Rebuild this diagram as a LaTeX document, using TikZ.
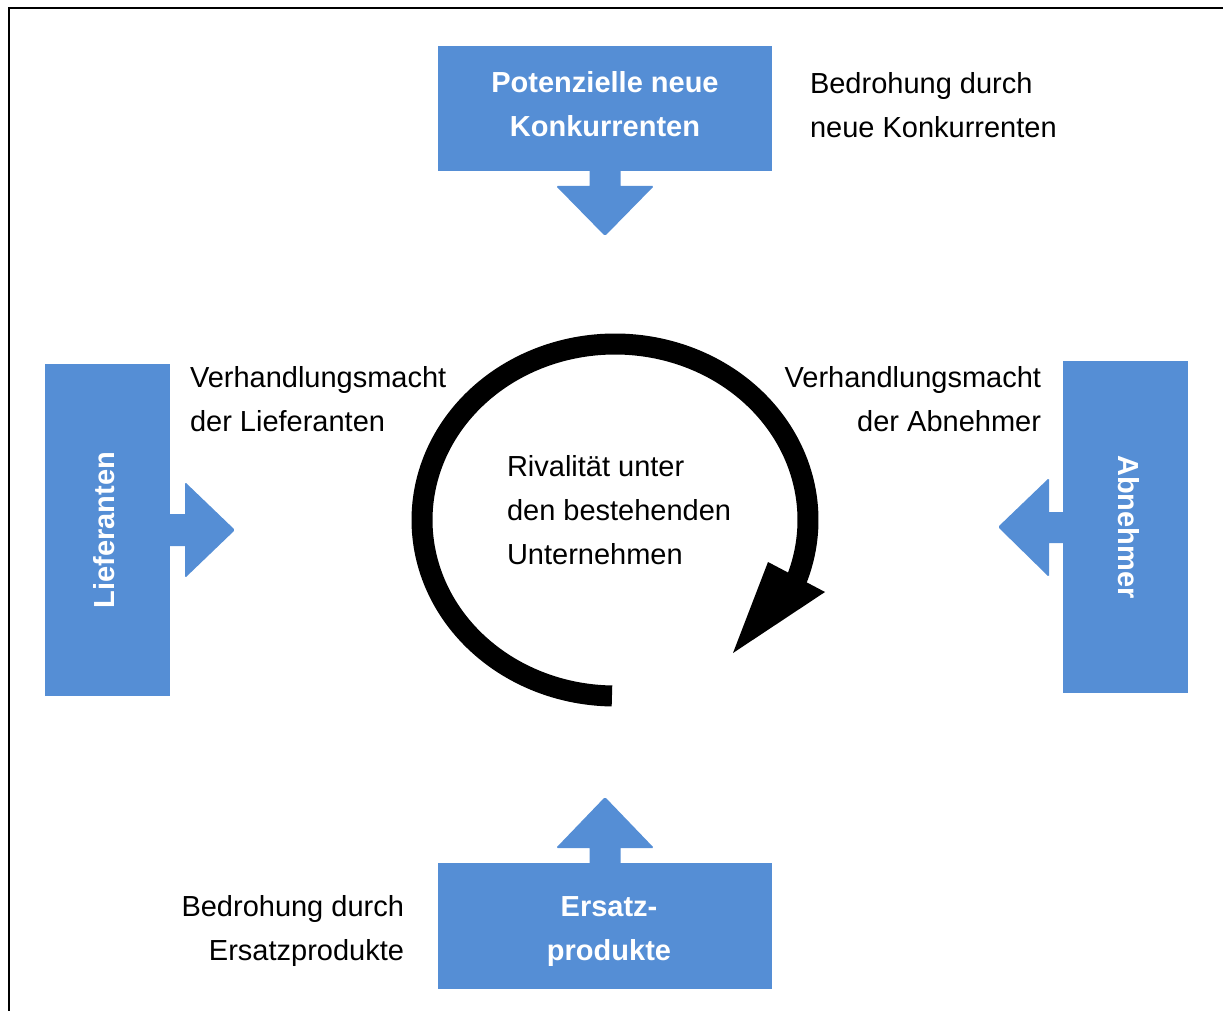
\documentclass[tikz,border=0pt]{standalone}
\usepackage{fontspec}
\setmainfont{Liberation Sans}
\usetikzlibrary{calc}
\definecolor{blockblue}{RGB}{85,142,213}
\begin{document}
\begin{tikzpicture}[x=1pt,y=-1pt,
  box/.style={fill=blockblue, draw=none, inner sep=0pt, outer sep=0pt},
  txt/.style={font=\fontsize{29}{44}\selectfont, inner sep=0pt, outer sep=0pt},
  btxt/.style={txt, font=\fontsize{29}{44}\selectfont\bfseries, text=white},
  rivalry/.style={line width=21pt, line cap=butt, draw=black}
]
\useasboundingbox (0,0) rectangle (1223,1011);
% frame (top and left only)
\draw[line width=2.3pt] (1223,8) -- (9.2,8) -- (9.2,1011);

% boxes
\node[box, minimum width=334pt, minimum height=125pt] (top) at (605,108.5) {};
\node[box, minimum width=125pt, minimum height=332pt] (left) at (107.5,530) {};
\node[box, minimum width=125pt, minimum height=332pt] (right) at (1125.5,527) {};
\node[box, minimum width=334pt, minimum height=126pt] (bottom) at (605,926) {};

% block arrows
\fill[blockblue, shift={(top.south)}] (-15.5,-1) -- (-15.5,15) [rounded corners=1.5pt] -- (-49,15) -- (0,65) -- (49,15) [sharp corners] -- (15.5,15) -- (15.5,-1) -- cycle;
\fill[blockblue, shift={(bottom.north)}] (-15.5,1) -- (-15.5,-15) [rounded corners=1.5pt] -- (-49,-15) -- (0,-66) -- (49,-15) [sharp corners] -- (15.5,-15) -- (15.5,1) -- cycle;
\fill[blockblue, shift={(left.east)}] (-1,-16) -- (15,-16) [rounded corners=1.5pt] -- (15,-48) -- (65,0) -- (15,48) [sharp corners] -- (15,16) -- (-1,16) -- cycle;
\fill[blockblue, shift={(right.west)}] (1,-15) -- (-14,-15) [rounded corners=1.5pt] -- (-14,-49) -- (-65,0) -- (-14,50) [sharp corners] -- (-14,16) -- (1,16) -- cycle;

% box texts (base anchor = baseline of last line)
\node[btxt, align=center, anchor=base] (toptext) at (605,137) {Potenzielle neue\\Konkurrenten};
\node[btxt, align=center, anchor=base] (bottomtext) at (609,960) {Ersatz-\\produkte};
\node[btxt, rotate=90, anchor=base] (lefttext) at (114,530) {Lieferanten};
\node[btxt, rotate=-90, anchor=base] (righttext) at (1118,527) {Abnehmer};

% side texts
\node[txt, align=left, anchor=base west] (threatnew) at (810,138) {Bedrohung durch\\neue Konkurrenten};
\node[txt, align=left, anchor=base west] (supplier) at (190,431) {Verhandlungsmacht\\der Lieferanten};
\node[txt, align=right, anchor=base east] (buyer) at (1041,431) {Verhandlungsmacht\\der Abnehmer};
\node[txt, align=right, anchor=base east] (threatsub) at (404,960) {Bedrohung durch\\Ersatzprodukte};
\node[txt, align=left, anchor=base west] (rivaltext) at (507,564) {Rivalität unter\\den bestehenden\\Unternehmen};

% rivalry circular arrow
\coordinate (rc) at (615,520);
\draw[rivalry] plot[domain=90.9:380, samples=120, smooth] ({615+193*cos(\x)},{520+176*sin(\x)});
\fill[black] (768,562) -- (825,592) -- (733,653) -- cycle;
\end{tikzpicture}
\end{document}
